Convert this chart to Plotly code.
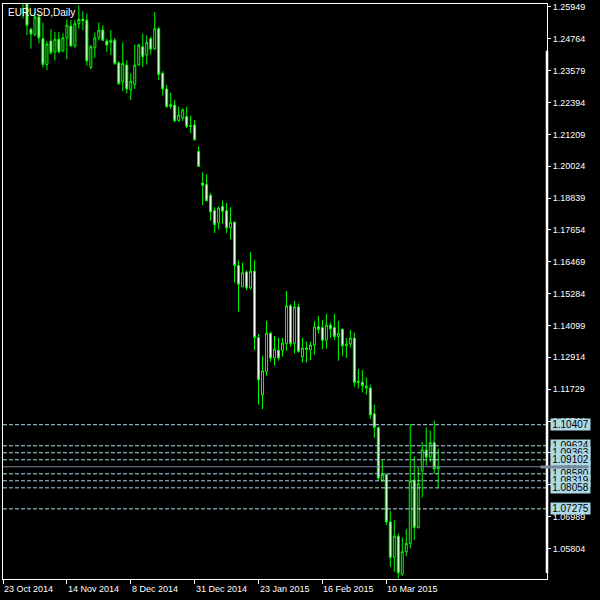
import plotly.graph_objects as go

# ---- data (EURUSD daily) ----
opens = [1.2645, 1.2665, 1.2670, 1.2705, 1.2730, 1.2645, 1.2612, 1.2512, 1.2492, 1.2558,
         1.2477, 1.2381, 1.2468, 1.2428, 1.2475, 1.2431, 1.2480, 1.2524, 1.2450, 1.2533,
         1.2549, 1.2546, 1.2370, 1.2443, 1.2480, 1.2509, 1.2468, 1.2462, 1.2471, 1.2387,
         1.2317, 1.2379, 1.2286, 1.2307, 1.2379, 1.2447, 1.2416, 1.2477, 1.2438, 1.2514,
         1.2348, 1.2290, 1.2224, 1.2230, 1.2172, 1.2181, 1.2187, 1.2150, 1.2156, 1.2057,
         1.1940, 1.1934, 1.1894, 1.1837, 1.1791, 1.1853, 1.1837, 1.1773, 1.1794, 1.1633,
         1.1554, 1.1609, 1.1550, 1.1612, 1.1365, 1.1151, 1.1239, 1.1381, 1.1289, 1.1318,
         1.1316, 1.1343, 1.1483, 1.1343, 1.1479, 1.1293, 1.1326, 1.1319, 1.1337, 1.1405,
         1.1402, 1.1355, 1.1411, 1.1402, 1.1369, 1.1396, 1.1334, 1.1341, 1.1363, 1.1198,
         1.1199, 1.1177, 1.1177, 1.1081, 1.1029, 1.0834, 1.0855, 1.0679, 1.0547, 1.0626,
         1.0485, 1.0568, 1.0599, 1.0834, 1.0657, 1.0868, 1.0947, 1.0920, 1.0974, 1.0877]
highs = [1.2690, 1.2700, 1.2720, 1.2745, 1.2750, 1.2655, 1.2622, 1.2517, 1.2576, 1.2570,
         1.2537, 1.2468, 1.2512, 1.2502, 1.2502, 1.2497, 1.2549, 1.2546, 1.2546, 1.2601,
         1.2579, 1.2570, 1.2453, 1.2500, 1.2537, 1.2527, 1.2477, 1.2509, 1.2480, 1.2393,
         1.2463, 1.2397, 1.2348, 1.2455, 1.2459, 1.2496, 1.2490, 1.2484, 1.2576, 1.2521,
         1.2356, 1.2305, 1.2276, 1.2249, 1.2224, 1.2218, 1.2224, 1.2191, 1.2175, 1.2076,
         1.1980, 1.1973, 1.1903, 1.1850, 1.1853, 1.1875, 1.1866, 1.1850, 1.1798, 1.1652,
         1.1643, 1.1615, 1.1683, 1.1653, 1.1378, 1.1297, 1.1427, 1.1387, 1.1371, 1.1365,
         1.1363, 1.1538, 1.1489, 1.1501, 1.1491, 1.1365, 1.1350, 1.1349, 1.1427, 1.1445,
         1.1430, 1.1454, 1.1421, 1.1454, 1.1427, 1.1398, 1.1363, 1.1394, 1.1383, 1.1248,
         1.1244, 1.1217, 1.1190, 1.1115, 1.1034, 1.0908, 1.0859, 1.0719, 1.0685, 1.0636,
         1.0621, 1.0652, 1.1044, 1.0923, 1.0883, 1.0976, 1.1031, 1.1019, 1.1056, 1.0951]
lows = [1.2620, 1.2640, 1.2655, 1.2690, 1.2630, 1.2552, 1.2490, 1.2440, 1.2486, 1.2459,
        1.2369, 1.2360, 1.2418, 1.2396, 1.2422, 1.2428, 1.2401, 1.2447, 1.2443, 1.2514,
        1.2509, 1.2376, 1.2363, 1.2406, 1.2471, 1.2468, 1.2428, 1.2416, 1.2379, 1.2305,
        1.2282, 1.2273, 1.2249, 1.2290, 1.2376, 1.2372, 1.2381, 1.2418, 1.2436, 1.2323,
        1.2265, 1.2220, 1.2216, 1.2165, 1.2168, 1.2171, 1.2144, 1.2125, 1.2097, 1.2000,
        1.1857, 1.1872, 1.1800, 1.1754, 1.1767, 1.1788, 1.1754, 1.1730, 1.1569, 1.1461,
        1.1553, 1.1541, 1.1544, 1.1318, 1.1115, 1.1099, 1.1223, 1.1276, 1.1260, 1.1279,
        1.1294, 1.1316, 1.1331, 1.1306, 1.1309, 1.1272, 1.1272, 1.1281, 1.1301, 1.1380,
        1.1322, 1.1324, 1.1363, 1.1355, 1.1279, 1.1297, 1.1289, 1.1328, 1.1182, 1.1176,
        1.1161, 1.1153, 1.1062, 1.0992, 1.0834, 1.0827, 1.0667, 1.0512, 1.0494, 1.0469,
        1.0478, 1.0552, 1.0580, 1.0611, 1.0656, 1.0770, 1.0889, 1.0902, 1.0858, 1.0803]
closes = [1.2665, 1.2670, 1.2705, 1.2730, 1.2645, 1.2612, 1.2527, 1.2494, 1.2558, 1.2480,
          1.2381, 1.2457, 1.2425, 1.2475, 1.2428, 1.2480, 1.2527, 1.2450, 1.2533, 1.2549,
          1.2544, 1.2394, 1.2447, 1.2480, 1.2509, 1.2471, 1.2453, 1.2471, 1.2385, 1.2310,
          1.2385, 1.2290, 1.2319, 1.2379, 1.2453, 1.2410, 1.2463, 1.2438, 1.2514, 1.2344,
          1.2290, 1.2224, 1.2232, 1.2172, 1.2193, 1.2212, 1.2150, 1.2153, 1.2101, 1.2002,
          1.1932, 1.1874, 1.1832, 1.1785, 1.1847, 1.1835, 1.1773, 1.1794, 1.1633, 1.1563,
          1.1606, 1.1550, 1.1612, 1.1365, 1.1207, 1.1241, 1.1381, 1.1289, 1.1322, 1.1289,
          1.1344, 1.1483, 1.1343, 1.1479, 1.1313, 1.1326, 1.1321, 1.1337, 1.1405, 1.1395,
          1.1355, 1.1411, 1.1398, 1.1369, 1.1381, 1.1334, 1.1340, 1.1363, 1.1198, 1.1202,
          1.1186, 1.1185, 1.1077, 1.1031, 1.0842, 1.0855, 1.0679, 1.0547, 1.0626, 1.0490,
          1.0568, 1.0599, 1.0830, 1.0658, 1.0821, 1.0947, 1.0920, 1.0974, 1.0877, 1.0884]
bar_index = list(range(len(opens)))

date_tick_index = [0, 16, 32, 48, 64, 80, 96]
date_tick_labels = ["23 Oct 2014", "14 Nov 2014", "8 Dec 2014", "31 Dec 2014",
                    "23 Jan 2015", "16 Feb 2015", "10 Mar 2015"]

price_ticks = [1.25949, 1.24764, 1.23579, 1.22394, 1.21209, 1.20024, 1.18839, 1.17654,
               1.16469, 1.15284, 1.14099, 1.12914, 1.11729, 1.10544, 1.09359, 1.08174,
               1.06989, 1.05804]

level_prices = [1.10407, 1.09624, 1.09363, 1.09102, 1.08580, 1.08319, 1.08058, 1.07275]
bid_price = 1.08841

y_range = [1.04666, 1.26060]
x_range = [0, 136.25]

LIME = "#00FF00"
LBLUE = "#ADD8E6"
FONT = "Liberation Sans, Arial, sans-serif"

fig = go.Figure()
fig.add_trace(go.Candlestick(
    x=bar_index, open=opens, high=highs, low=lows, close=closes,
    increasing=dict(line=dict(color=LIME, width=1), fillcolor="black"),
    decreasing=dict(line=dict(color=LIME, width=1), fillcolor="white"),
    whiskerwidth=0, showlegend=False, hoverinfo="skip",
))

shapes = []
for lv in level_prices:
    shapes.append(dict(type="line", xref="paper", x0=0, x1=1, yref="y", y0=lv, y1=lv,
                       line=dict(color=LBLUE, width=1, dash="4px,2px"), layer="above"))
shapes.append(dict(type="line", xref="paper", x0=0, x1=1, yref="y", y0=bid_price, y1=bid_price,
                   line=dict(color="#778899", width=1), layer="above"))
# thick bar at right edge of chart
shapes.append(dict(type="line", xref="paper", x0=1, x1=1, yref="paper", y0=0.0104, y1=0.9185,
                   line=dict(color="white", width=2.5), layer="above"))

annotations = []
annotations.append(dict(text="EURUSD,Daily", xref="paper", yref="paper", x=0, y=1,
                        xanchor="left", yanchor="top", xshift=3, yshift=-1, showarrow=False,
                        font=dict(color="white", size=10, family=FONT)))
for idx, lab in zip(date_tick_index, date_tick_labels):
    annotations.append(dict(text=lab, xref="x", yref="paper", x=idx, y=0,
                            xanchor="left", yanchor="top", xshift=-1, yshift=-3,
                            showarrow=False, font=dict(color="white", size=9, family=FONT)))

def price_box(v, bg, fg="black"):
    return dict(text=f"{v:.5f}", xref="paper", yref="y", x=1, y=v, xanchor="left",
                yanchor="middle", xshift=3, showarrow=False, bgcolor=bg, width=37, height=9,
                borderpad=1, font=dict(color=fg, size=10, family=FONT))

annotations.append(price_box(bid_price, LBLUE))
for lv in level_prices:
    annotations.append(price_box(lv, LBLUE))
annotations.append(dict(text=" ", xref="paper", yref="y", x=1, y=bid_price, xanchor="left",
                        yanchor="middle", xshift=-7, showarrow=False, bgcolor="#778899",
                        width=47, height=2, borderpad=0, font=dict(size=2)))

fig.update_layout(
    width=600, height=600,
    margin=dict(l=2, r=53, t=2, b=21),
    paper_bgcolor="black", plot_bgcolor="black",
    shapes=shapes, annotations=annotations,
    xaxis=dict(range=x_range, rangeslider=dict(visible=False), showgrid=False, zeroline=False,
               tickvals=date_tick_index, showticklabels=False, ticks="outside", ticklen=4,
               tickcolor="white", showline=True, linecolor="white", linewidth=1, mirror=True),
    yaxis=dict(range=y_range, side="right", showgrid=False, zeroline=False,
               tickvals=price_ticks, tickformat=".5f", ticks="outside", ticklen=3,
               tickcolor="white", tickfont=dict(color="white", size=9, family=FONT),
               showline=True, linecolor="white", linewidth=1, mirror=True),
    font=dict(family=FONT),
)

fig.write_html("out.html", config={"displayModeBar": False},
               post_script="document.body.style.margin='0';document.body.style.background='black';")
